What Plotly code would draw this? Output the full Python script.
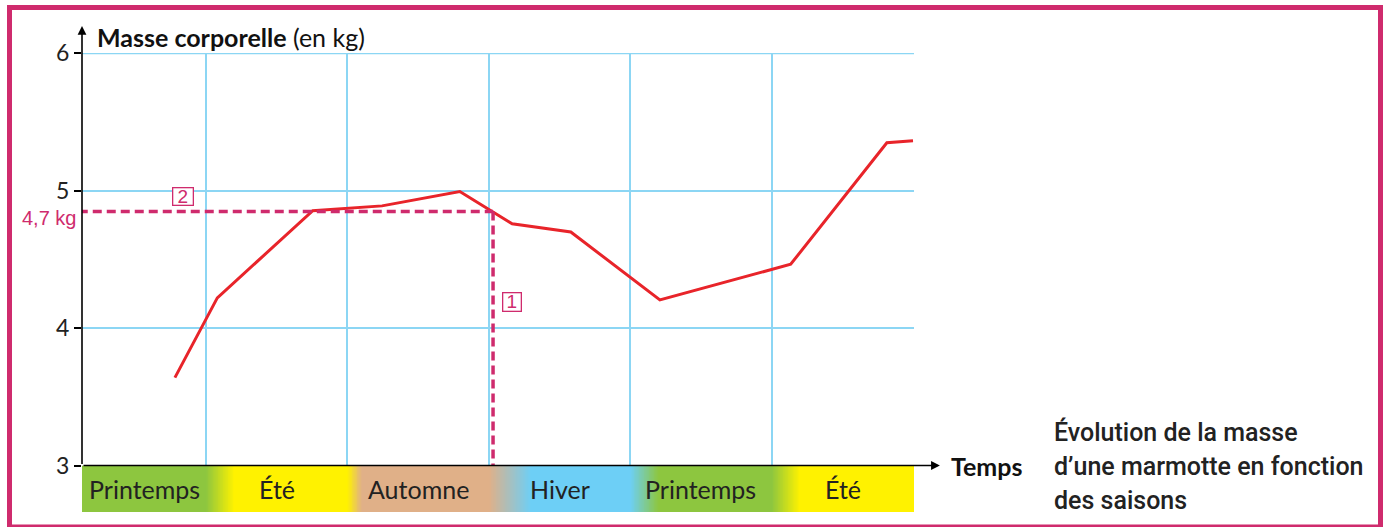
import numpy as np
import plotly.graph_objects as go

# ---- data ----
temps = [0.78, 1.08, 1.755, 2.245, 2.795, 3.165, 3.58, 4.21, 5.135, 5.815, 6.0]
masse = [3.64, 4.22, 4.855, 4.89, 4.995, 4.76, 4.70, 4.205, 4.465, 5.35, 5.365]

saisons = ["Printemps", "Été", "Automne", "Hiver", "Printemps", "Été"]
debut_saisons = [0.123, 1, 2, 3, 4, 5]
fin_saisons = [1, 2, 3, 4, 5, 6.007]
couleurs_saisons = ["#8dc63f", "#fff200", "#e0b088", "#6dcff6", "#8dc63f", "#fff200"]
transitions = [0.0, 0.2, 0.1, 0.3, 0.2, 0.2]

repere_temps = 3.03
repere_masse = 4.85
repere_label = "4,7 kg"

y_ticks = [3, 4, 5, 6]
x_grid = [1, 2, 3, 4, 5, 6]

caption_lines = ["Évolution de la masse", "d’une marmotte en fonction", "des saisons"]

XMIN, XMAX = debut_saisons[0], fin_saisons[-1]
PINK = "#cf2b6d"
GRID = "#8cd6f4"
FONT = "Lato"

# colour scale for the seasons band
def t(v):
    return (v - XMIN) / (XMAX - XMIN)

cs = []
for i, c in enumerate(couleurs_saisons):
    start = debut_saisons[i] + transitions[i]
    cs.append((t(start) if i else 0.0, c))
    cs.append((t(fin_saisons[i]) if i < len(saisons) - 1 else 1.0, c))

edges = np.linspace(XMIN, XMAX, 1001)
centers = (edges[:-1] + edges[1:]) / 2

fig = go.Figure()
fig.add_trace(go.Heatmap(
    x=edges, y=[0, 1], z=[centers], colorscale=cs, zmin=XMIN, zmax=XMAX,
    showscale=False, hoverinfo="skip", xaxis="x2", yaxis="y2"))

fig.add_trace(go.Scatter(
    x=temps, y=masse, mode="lines",
    line=dict(color="#e8242a", width=3), hoverinfo="skip", cliponaxis=False))

bar_frac = (512 - 465.5) / 459

fig.update_layout(
    width=1387, height=537, autosize=False,
    margin=dict(l=82, r=473, t=53, b=25),
    paper_bgcolor="white", plot_bgcolor="white",
    showlegend=False,
    font=dict(family=FONT, color="#222"),
    xaxis=dict(range=[XMIN, XMAX], tickvals=x_grid, showticklabels=False,
               showgrid=True, gridcolor=GRID, gridwidth=1.5,
               zeroline=False, showline=False, ticks="", anchor="y"),
    yaxis=dict(range=[3, 6.003], domain=[bar_frac, 1], tickvals=y_ticks,
               showgrid=True, gridcolor=GRID, gridwidth=1.5,
               zeroline=False, showline=False, ticks="outside", ticklen=7,
               tickcolor="black", tickwidth=1.5,
               tickfont=dict(family=FONT, size=23, color="#222")),
    xaxis2=dict(range=[XMIN, XMAX], anchor="y2", visible=False),
    yaxis2=dict(range=[0, 1], domain=[0, bar_frac], visible=False),
)

# top grid line (at the edge of the plot area)
fig.add_shape(type="line", xref="x", yref="y", x0=XMIN, x1=XMAX, y0=6, y1=6,
              line=dict(color=GRID, width=1.5), layer="below")

# reference dashed lines
fig.add_shape(type="line", xref="x", yref="y", x0=0.1, x1=repere_temps,
              y0=repere_masse, y1=repere_masse,
              line=dict(color=PINK, width=3.5, dash="9px,5px"))
fig.add_shape(type="line", xref="x", yref="y", x0=repere_temps, x1=repere_temps,
              y0=repere_masse, y1=3,
              line=dict(color=PINK, width=3.5, dash="9px,5px"))

# frame
fig.add_shape(type="rect", xref="paper", yref="paper",
              x0=(9.5 - 82) / 832, x1=(1380.5 - 82) / 832,
              y0=(512 - 527) / 459, y1=(512 - 7.5) / 459,
              line=dict(color=PINK, width=5))

ann = []
# axes arrows
ann.append(dict(x=XMIN, y=6.2, ax=XMIN, ay=3, xref="x", yref="y", axref="x", ayref="y",
                text="", showarrow=True, arrowhead=2, arrowsize=1.1, arrowwidth=1.6,
                arrowcolor="black"))
ann.append(dict(x=6.19, y=3, ax=XMIN, ay=3, xref="x", yref="y", axref="x", ayref="y",
                text="", showarrow=True, arrowhead=2, arrowsize=1.1, arrowwidth=1.6,
                arrowcolor="black"))
# axis titles
ann.append(dict(x=(95 - 82) / 832, y=(512 - 37) / 459, xref="paper", yref="paper",
                xanchor="left", yanchor="middle", showarrow=False,
                text="<b>Masse corporelle</b> (en kg)",
                font=dict(family=FONT, size=25, color="#111")))
ann.append(dict(x=(949 - 82) / 832, y=3, xref="paper", yref="y",
                xanchor="left", yanchor="middle", showarrow=False,
                text="<b>Temps</b>", font=dict(family=FONT, size=25, color="#111")))
# season labels
for i, s in enumerate(saisons):
    ann.append(dict(x=(debut_saisons[i] + fin_saisons[i]) / 2, y=0.5, xref="x2", yref="y2",
                    text=s, showarrow=False,
                    font=dict(family=FONT, size=25, color="#222")))
# reference label
ann.append(dict(x=(78 - 82) / 832, y=4.80, xref="paper", yref="y",
                xanchor="right", yanchor="middle", showarrow=False,
                text=repere_label, font=dict(family="Liberation Sans", size=20, color=PINK)))
# boxed numbers
ann.append(dict(x=0.834, y=4.961, xref="x", yref="y", text="2", showarrow=False,
                width=19, height=16, borderpad=0,
                bordercolor=PINK, borderwidth=1.3, bgcolor="white",
                font=dict(family="Liberation Sans", size=19, color=PINK)))
ann.append(dict(x=3.167, y=4.19, xref="x", yref="y", text="1", showarrow=False,
                width=17, height=17, borderpad=0,
                bordercolor=PINK, borderwidth=1.3, bgcolor="white",
                font=dict(family="Liberation Sans", size=19, color=PINK)))
# caption
for line, py in zip(caption_lines, [432, 466, 500]):
    ann.append(dict(x=(1052 - 82) / 832, y=(512 - py) / 459, xref="paper", yref="paper",
                    xanchor="left", yanchor="middle", align="left", showarrow=False,
                    text=line,
                    font=dict(family="Roboto", size=25, color="#222", weight=500)))
fig.update_layout(annotations=ann)

fig.write_html("out.html", config={"responsive": False, "displayModeBar": False},
               post_script="document.body.style.margin='0';")
